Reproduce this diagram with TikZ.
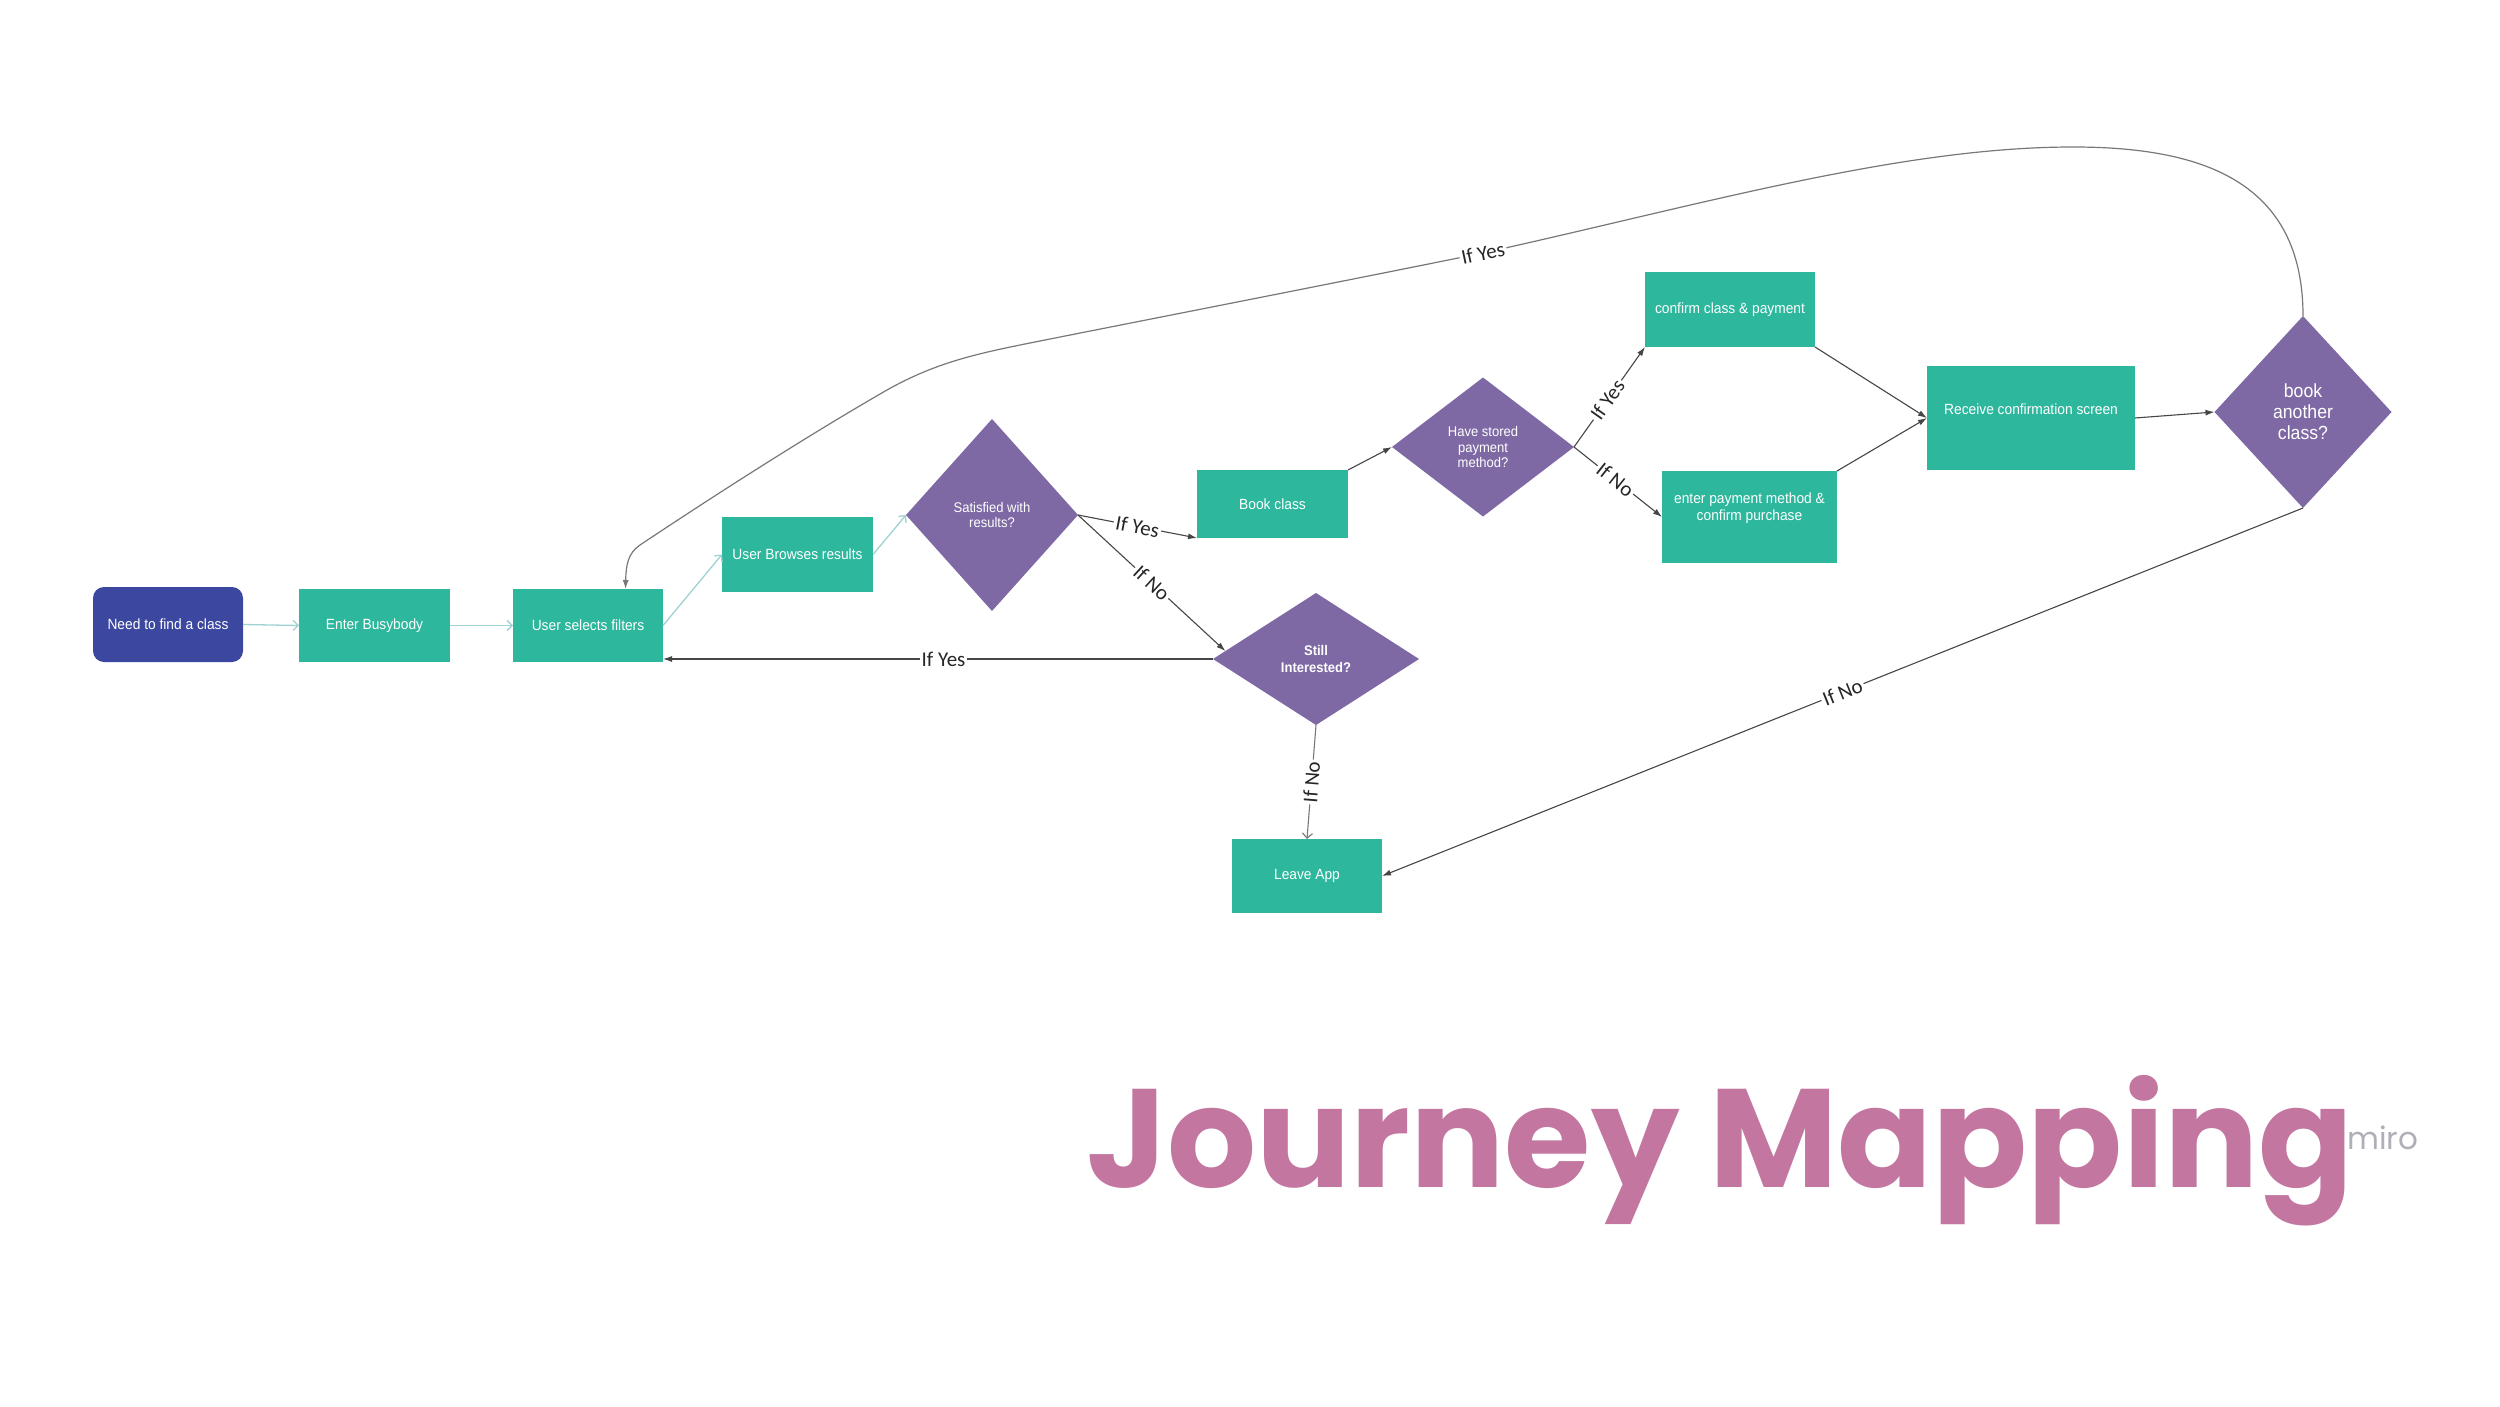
\documentclass[tikz,border=0pt]{standalone}
\usepackage{fontspec}
\setmainfont{Liberation Sans}
\newfontfamily\boxfont{Liberation Sans}[FakeStretch=0.93]
\newfontfamily\lblfont{Carlito}
\newfontfamily\titlefont{Poppins}
\usetikzlibrary{shapes.geometric,arrows.meta,calc}
\definecolor{tealbox}{RGB}{45,183,157}
\definecolor{purpdia}{RGB}{126,105,165}
\definecolor{navybox}{RGB}{60,72,160}
\definecolor{lightflow}{RGB}{160,210,212}
\definecolor{darkline}{RGB}{70,70,70}
\definecolor{grayline}{RGB}{120,120,120}
\definecolor{titlepink}{RGB}{194,118,160}
\definecolor{mirogray}{RGB}{175,175,185}
\tikzset{
  box/.style={rectangle, fill=tealbox, text=white, font=\boxfont\fontsize{14.8}{17}\selectfont,
    align=center, inner sep=0pt, outer sep=0pt},
  boxtext/.style={text=white, font=\boxfont\fontsize{14.8}{17}\selectfont, align=center, inner sep=0pt},
  dia/.style={diamond, fill=purpdia, text=white, font=\boxfont\fontsize{14}{15.5}\selectfont,
    align=center, inner sep=0pt, outer sep=0pt},
  flow/.style={draw=lightflow, line width=1.3pt, -{Straight Barb[length=5pt,width=10pt]}},
  flowgray/.style={draw=grayline, line width=1.1pt, -{Straight Barb[length=5pt,width=10pt]}},
  conn/.style={draw=darkline, line width=1.1pt, -{Latex[length=9pt,width=6pt]}},
  curveconn/.style={draw=grayline, line width=1.2pt, -{Latex[length=9pt,width=6pt]}},
  lbl/.style={fill=white, inner sep=2pt, text=black!85, font=\lblfont\fontsize{21}{21}\selectfont},
}
\begin{document}
\begin{tikzpicture}[x=1pt,y=-1pt]
\fill[white] (0,0) rectangle (2500,1407);
\useasboundingbox (0,0) rectangle (2500,1407);

% nodes
\node[box, fill=navybox, rounded corners=11pt, minimum width=150pt, minimum height=75pt] (need) at (168,624.5) {Need to find a class};
\node[box, minimum width=151pt, minimum height=73pt] (enter) at (374.5,625.5) {Enter Busybody};
\node[box, minimum width=150pt, minimum height=73pt] (sel) at (588,625.5) {User selects filters};
\node[box, minimum width=151pt, minimum height=75pt] (browse) at (797.5,554.5) {User Browses results};
\node[dia, minimum width=172pt, minimum height=192pt] (sat) at (992,515) {Satisfied with\\results?};
\node[box, minimum width=151pt, minimum height=68pt] (book) at (1272.5,504) {Book class};
\node[dia, minimum width=182pt, minimum height=139pt] (have) at (1483,447) {Have stored\\payment\\method?};
\node[box, minimum width=170pt, minimum height=75pt] (confirm) at (1730,309.5) {confirm class \& payment};
\node[box, minimum width=175pt, minimum height=92pt,
  label={[boxtext, yshift=9pt]center:{enter payment method \&\\confirm purchase}}] (pay) at (1749.5,517) {};
\node[box, minimum width=208pt, minimum height=104pt,
  label={[boxtext, yshift=9pt]center:{Receive confirmation screen}}] (receive) at (2031,418) {};
\node[dia, minimum width=177pt, minimum height=192pt, font=\boxfont\fontsize{19}{21}\selectfont] (another) at (2303,412) {book\\another\\class?};
\node[dia, minimum width=206pt, minimum height=132pt, font=\boxfont\bfseries\fontsize{14}{16.5}\selectfont] (still) at (1316,659) {Still\\Interested?};
\node[box, minimum width=150pt, minimum height=74pt] (leave) at (1307,876) {Leave App};

% connectors
\draw[flow] (need.east) -- (enter.west);
\draw[flow] (enter.east) -- (sel.west);
\draw[flow] (sel.east) -- (browse.west);
\draw[flow] (browse.east) -- (sat.west);
\draw[conn] (sat.east) -- node[lbl, sloped] {If Yes} (book.south west);
\draw[conn] (sat.east) -- node[lbl, sloped] {If No} (still.175);
\draw[conn] (book.north east) -- (have.west);
\draw[conn] (have.east) -- node[lbl, sloped, pos=0.47] {If Yes} (confirm.south west);
\draw[conn] (have.east) -- node[lbl, sloped, pos=0.47] {If No} (pay.west);
\draw[conn] (confirm.south east) -- (receive.west);
\draw[conn] (pay.north east) -- (receive.west);
\draw[conn] (receive.east) -- (another.west);
\draw[conn] (still.west) -- node[lbl, pos=0.49] {If Yes} (sel.east |- still.west);
\draw[flowgray] (still.south) -- node[lbl, sloped] {If No} (leave.north);
\draw[conn] (another.south) -- node[lbl, sloped] {If No} (leave.east);
\coordinate (peak) at (2073,147);
\coordinate (yeslbl) at (1483,253);
\coordinate (c1) at (1030,343);
\coordinate (c2) at (887,390);
\coordinate (c3) at (640,545);
\draw[curveconn] (another.north) .. controls (2303,180) and (2200,147) .. (peak)
  .. controls (1900,147) and (1700,205) .. (yeslbl) node[lbl, rotate=12] {If Yes}
  .. controls (1330,284) and (1130,323) .. (c1)
  .. controls (975,354) and (935,363) .. (c2)
  .. controls (800,440) and (700,505) .. (c3)
  .. controls (628,553) and (626,565) .. ($(sel.north west)!0.75!(sel.north east)$);

% title
\node[font=\titlefont\bfseries\fontsize{140}{140}\selectfont, text=titlepink, anchor=base west, inner sep=0pt] (title) at (1086,1187) {Journey Mapping};
\node[font=\titlefont\fontsize{31}{31}\selectfont, text=mirogray, anchor=base west, inner sep=0pt] (miro) at (2347,1149) {miro};
\end{tikzpicture}
\end{document}
